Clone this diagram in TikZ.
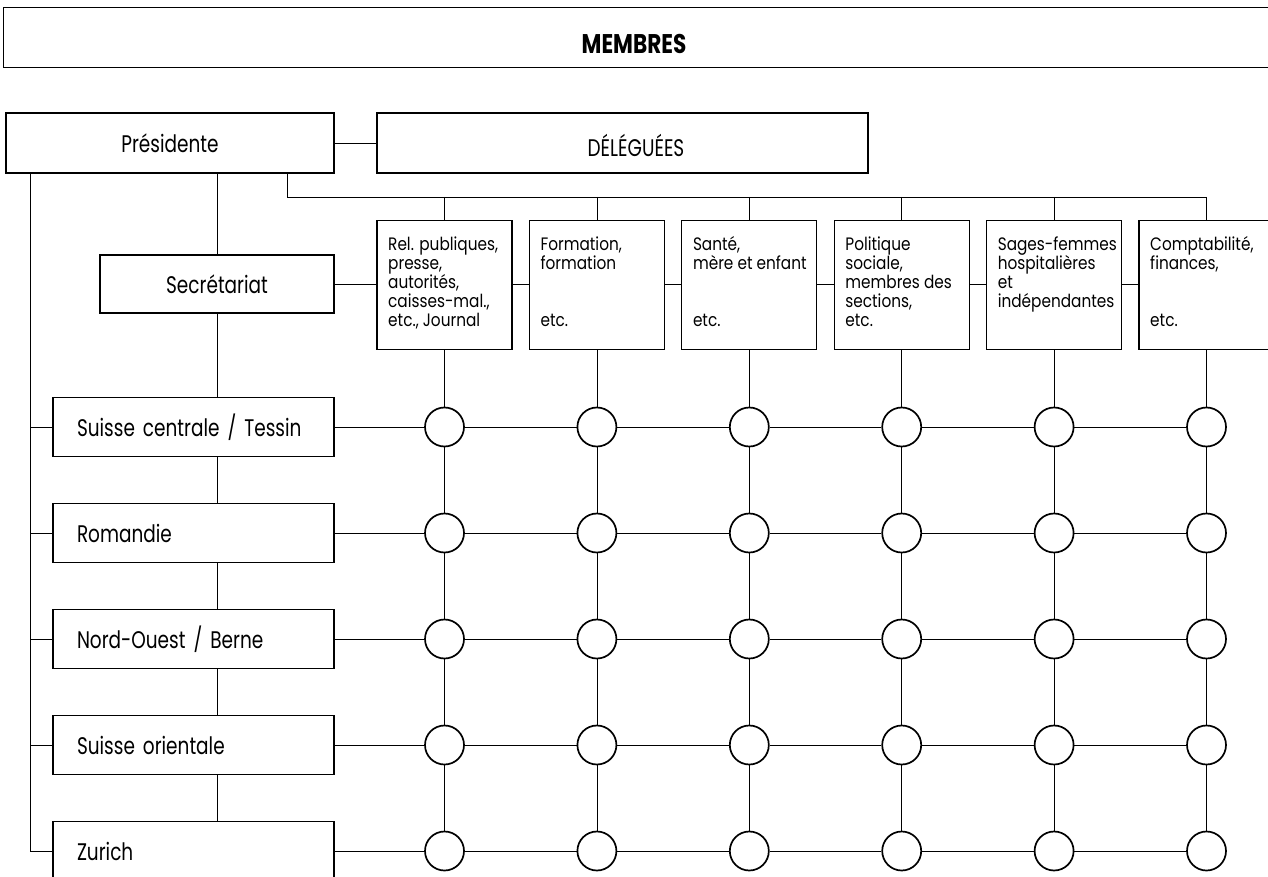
\documentclass[tikz,border=0pt]{standalone}
\usepackage{fontspec}
\setmainfont{Poppins}[FakeStretch=0.8]
\newfontfamily\labfam{Poppins}[FakeStretch=0.77]
\newfontfamily\comfam{Poppins}[FakeStretch=0.85]
\newcommand\labfont{\labfam\fontsize{24}{28}\selectfont}
\newcommand\comfont{\comfam\fontsize{18}{19}\selectfont}
\newcommand\headfont{\fontsize{27}{30}\selectfont\bfseries}
\newcommand\combox[1]{\parbox[t]{130pt}{\comfont\raggedright #1}}
\begin{document}
\begin{tikzpicture}[x=1pt,y=-1pt,
  box/.style={draw, line width=1.2pt, rectangle, inner sep=0pt},
  conn/.style={line width=0.8pt},
  ring/.style={circle, draw, line width=1.7pt, minimum size=39pt, inner sep=0pt},
  rowbox/.style={box, minimum width=281pt, minimum height=59pt, text width=233pt, align=left, inner xsep=24pt, font=\labfont},
  combx/.style={box, minimum width=135pt, minimum height=129pt, anchor=north},
  ctext/.style={anchor=base west, inner sep=0pt}
]
\useasboundingbox (0,0) rectangle (1268,877);
% top header
\node[box, minimum width=1280pt, minimum height=60pt, anchor=north west] (membres) at (3,7) {};
\node[font=\headfont] (membrest) at (634,44) {MEMBRES};
% president and delegates
\node[box, minimum width=328pt, minimum height=60pt, font=\labfont] (pres) at (170,143) {Présidente};
\node[box, minimum width=491pt, minimum height=60pt] (del) at (622.5,143) {};
\node[font=\labfont] (delt) at (636,145) {DÉLÉGUÉES};
\node[box, minimum width=234pt, minimum height=58pt, font=\labfont] (sec) at (217,284) {Secrétariat};
% committee boxes
\foreach \k in {1,...,6} {
  \node[combx] (c\k) at ({444.5+152.4*(\k-1)},220) {};
}
\node[ctext] (t1) at (388,251) {\combox{Rel. publiques,\\presse,\\autorités,\\caisses-mal.,\\etc., Journal}};
\node[ctext] (t2) at (540.4,251) {\combox{Formation,\\formation\\\mbox{}\\\mbox{}\\etc.}};
\node[ctext] (t3) at (692.8,251) {\combox{Santé,\\mère et enfant\\\mbox{}\\\mbox{}\\etc.}};
\node[ctext] (t4) at (845.2,251) {\combox{Politique\\sociale,\\membres des\\sections,\\etc.}};
\node[ctext] (t5) at (997.6,251) {\combox{Sages-femmes\\hospitalières\\et\\indépendantes}};
\node[ctext] (t6) at (1150,251) {\combox{Comptabilité,\\finances,\\\mbox{}\\\mbox{}\\etc.}};
% region rows
\node[rowbox] (r1) at (193.5,427) {Suisse centrale / Tessin};
\node[rowbox] (r2) at (193.5,533) {Romandie};
\node[rowbox] (r3) at (193.5,639) {Nord-Ouest / Berne};
\node[rowbox] (r4) at (193.5,745) {Suisse orientale};
\node[rowbox] (r5) at (193.5,851) {Zurich};
% circles
\foreach \j in {1,...,5} {
  \foreach \k in {1,...,6} {
    \node[ring] (n\j\k) at (c\k.south |- r\j.east) {};
  }
}
% connectors
\draw[conn] (pres.east) -- (del.west);
\draw[conn] (sec.north |- pres.south) -- (sec.north);
\draw[conn] (sec.south) -- (sec.south |- r1.north);
\foreach \a/\b in {1/2,2/3,3/4,4/5} {
  \draw[conn] (sec.south |- r\a.south) -- (sec.south |- r\b.north);
}
\coordinate (bustop) at (30,173);
\draw[conn] (bustop) |- (r5.west);
\foreach \j in {1,...,4} {
  \draw[conn] (bustop |- r\j.west) -- (r\j.west);
}
\coordinate (pb) at (287,173);
\coordinate (ct) at (287,197);
\draw[conn] (pb) -- (ct) -- (c6.north |- ct);
\foreach \k in {1,...,6} {
  \draw[conn] (c\k.north |- ct) -- (c\k.north);
}
\draw[conn] (sec.east) -- (c1.west |- sec.east);
\foreach \a/\b in {1/2,2/3,3/4,4/5,5/6} {
  \draw[conn] (c\a.east |- sec.east) -- (c\b.west |- sec.east);
}
\foreach \k in {1,...,6} {
  \draw[conn] (c\k.south) -- (n1\k.north);
  \foreach \a/\b in {1/2,2/3,3/4,4/5} {
    \draw[conn] (n\a\k.south) -- (n\b\k.north);
  }
}
\foreach \j in {1,...,5} {
  \draw[conn] (r\j.east) -- (n\j1.west);
  \foreach \a/\b in {1/2,2/3,3/4,4/5,5/6} {
    \draw[conn] (n\j\a.east) -- (n\j\b.west);
  }
}
\end{tikzpicture}
\end{document}
